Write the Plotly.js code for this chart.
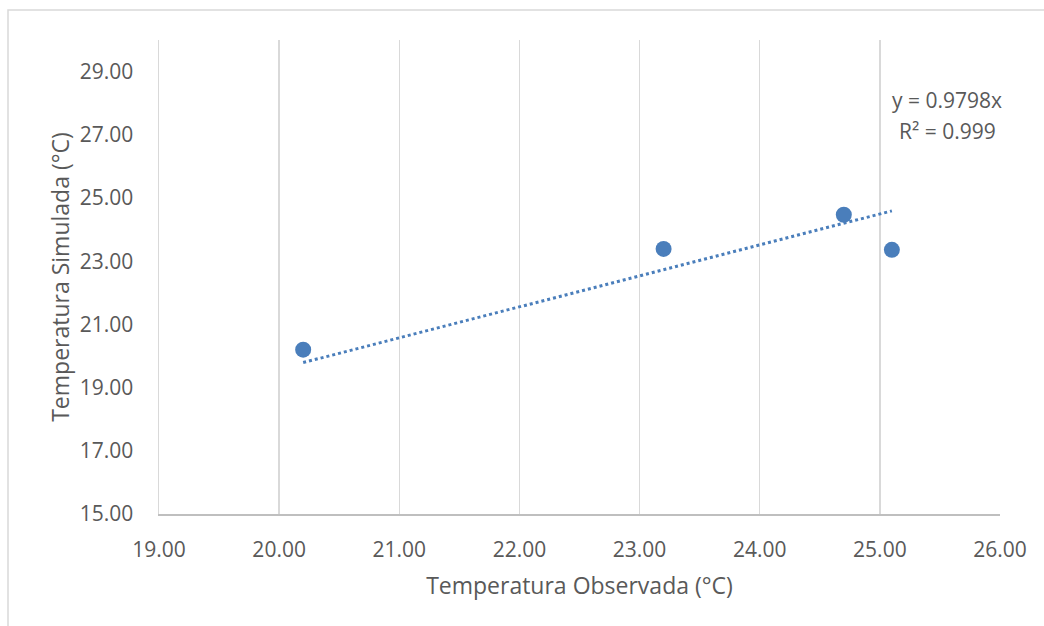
<!DOCTYPE html>
<html>
<head>
<meta charset="utf-8">
<script src="https://cdn.plot.ly/plotly-3.0.1.min.js"></script>
<style>html,body{margin:0;padding:0;background:#fff;}#chart{width:1044px;height:626px;}</style>
</head>
<body>
<div id="chart"></div>
<script>
const observed = [20.2, 23.2, 24.7, 25.1];
const simulated = [20.2, 23.39, 24.47, 23.36];
const trendSlope = 0.9798;
const trendR2 = 0.999;
const xTitle = 'Temperatura Observada (°C)';
const yTitle = 'Temperatura Simulada (°C)';

const xMin = Math.min(...observed), xMax = Math.max(...observed);
const trendX = [xMin, xMax];
const trendY = trendX.map(v => v * trendSlope);

const blue = '#4a7ebb';
const grey = '#595959';
const font = 'Open Sans, sans-serif';

const data = [
  {x: observed, y: simulated, type: 'scatter', mode: 'markers',
   marker: {color: blue, size: 16}, showlegend: false, hoverinfo: 'x+y'},
  {x: trendX, y: trendY, type: 'scatter', mode: 'lines',
   line: {color: blue, width: 3, dash: 'dot'}, showlegend: false}
];

const layout = {
  width: 1044, height: 626,
  margin: {l: 159, r: 44, t: 40, b: 112},
  paper_bgcolor: '#fff', plot_bgcolor: '#fff',
  font: {family: font, color: grey, size: 20},
  xaxis: {
    range: [19, 26], tick0: 19, dtick: 1, tickformat: '.2f',
    showgrid: true, gridcolor: '#d9d9d9', gridwidth: 1.5,
    showline: true, linecolor: '#bfbfbf', linewidth: 1.5,
    zeroline: false, ticks: 'outside', ticklen: 16, tickcolor: 'rgba(0,0,0,0)',
    tickfont: {size: 21, color: grey, family: font},
    title: {text: xTitle, font: {size: 23, color: grey, family: font}, standoff: 16}
  },
  yaxis: {
    range: [15, 30], tick0: 15, dtick: 2, tickformat: '.2f',
    showgrid: false,
    showline: true, linecolor: '#d9d9d9', linewidth: 1.5,
    zeroline: false, ticks: 'outside', ticklen: 20, tickcolor: 'rgba(0,0,0,0)',
    tickfont: {size: 21, color: grey, family: font},
    title: {text: yTitle, font: {size: 23, color: grey, family: font}, standoff: 3}
  },
  annotations: [
    {xref: 'paper', yref: 'paper', x: (947 - 159) / 841, y: (514 - 100) / 474,
     text: 'y = ' + trendSlope + 'x', showarrow: false, xanchor: 'center', yanchor: 'middle',
     font: {size: 21, color: grey, family: font}},
    {xref: 'paper', yref: 'paper', x: (947 - 159) / 841, y: (514 - 131) / 474,
     text: 'R² = ' + trendR2, showarrow: false, xanchor: 'center', yanchor: 'middle',
     font: {size: 21, color: grey, family: font}}
  ],
  shapes: [
    {type: 'rect', xref: 'paper', yref: 'paper',
     x0: (8 - 159) / 841, x1: (1060 - 159) / 841,
     y0: (514 - 640) / 474, y1: (514 - 10) / 474,
     line: {color: '#d9d9d9', width: 1.5}, fillcolor: 'rgba(0,0,0,0)', layer: 'below'}
  ]
};

Plotly.newPlot('chart', data, layout, {displayModeBar: false, staticPlot: true});
</script>
</body>
</html>
